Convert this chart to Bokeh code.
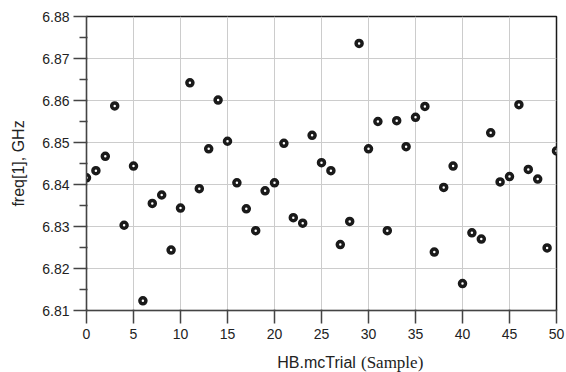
from bokeh.plotting import figure
from bokeh.models import ColumnDataSource, Range1d, FixedTicker
from bokeh.layouts import column
from bokeh.core.properties import value
from bokeh.embed import file_html
from bokeh.resources import INLINE

trial = list(range(51))
freq = [6.8416, 6.8433, 6.8467, 6.8587, 6.8303, 6.8444, 6.8123, 6.8355, 6.8375, 6.8244,
        6.8344, 6.8642, 6.8390, 6.8485, 6.8601, 6.8503, 6.8404, 6.8342, 6.8290, 6.8385,
        6.8404, 6.8498, 6.8321, 6.8308, 6.8517, 6.8452, 6.8433, 6.8257, 6.8312, 6.8736,
        6.8485, 6.8550, 6.8290, 6.8552, 6.8490, 6.8560, 6.8586, 6.8239, 6.8393, 6.8444,
        6.8164, 6.8285, 6.8270, 6.8523, 6.8406, 6.8419, 6.8590, 6.8436, 6.8413, 6.8249,
        6.8480]
x_ticks = [0, 5, 10, 15, 20, 25, 30, 35, 40, 45, 50]
y_ticks = [6.81, 6.82, 6.83, 6.84, 6.85, 6.86, 6.87, 6.88]
y_minor = [6.815, 6.825, 6.835, 6.845, 6.855, 6.865, 6.875]
y_label = "freq[1], GHz"
x_label_main = "HB.mcTrial"
x_label_unit = "(Sample)"

src = ColumnDataSource(dict(x=trial, y=freq))

p = figure(width=566, height=344, output_backend="svg", toolbar_location=None,
           x_range=Range1d(0, 50), y_range=Range1d(6.81, 6.88),
           min_border_left=86, min_border_right=10, min_border_top=16, min_border_bottom=34)
p.background_fill_color = "white"
p.border_fill_color = "white"
p.outline_line_color = "#1a1a1a"
p.outline_line_width = 1.5

p.scatter("x", "y", source=src, marker="circle", size=6, line_width=3.5,
          line_color="#1a1a1a", fill_color="white")

p.xaxis.ticker = FixedTicker(ticks=x_ticks)
p.yaxis.ticker = FixedTicker(ticks=y_ticks, minor_ticks=y_minor)
p.yaxis.formatter.precision = 2

p.axis.major_tick_out = 13
p.axis.major_tick_in = 1
p.axis.minor_tick_out = 7
p.axis.minor_tick_in = 1
p.axis.major_tick_line_color = "#444444"
p.axis.minor_tick_line_color = "#444444"
p.axis.axis_line_color = "#444444"
p.axis.major_tick_line_width = 1.5
p.axis.minor_tick_line_width = 1.5
p.axis.major_label_text_font = "Liberation Sans"
p.axis.major_label_text_font_size = "14px"
p.axis.major_label_text_color = "#222222"
p.axis.major_label_standoff = 4

p.xaxis.minor_tick_out = 0
p.xaxis.minor_tick_in = 0
p.xaxis.major_label_standoff = 5

p.yaxis.axis_label = y_label
p.yaxis.axis_label_text_font = "Liberation Sans"
p.yaxis.axis_label_text_font_size = "16px"
p.yaxis.axis_label_text_font_style = "normal"
p.yaxis.axis_label_text_color = "#222222"
p.yaxis.axis_label_standoff = 12

p.xgrid.ticker = FixedTicker(ticks=x_ticks)
p.ygrid.ticker = FixedTicker(ticks=y_ticks)
p.grid.grid_line_color = "#cccccc"
p.grid.grid_line_width = 1

# strip below the chart carrying the x-axis title (mixed fonts); same frame as the chart
lab = figure(width=566, height=28, output_backend="svg", toolbar_location=None,
             x_range=Range1d(0, 50), y_range=Range1d(0, 28),
             x_axis_type=None, y_axis_type=None,
             min_border_left=86, min_border_right=10, min_border_top=0, min_border_bottom=0)
lab.grid.visible = False
lab.outline_line_color = None
lab.background_fill_color = "white"
lab.border_fill_color = "white"
lab.text(x=[20.3], y=[10], text=[x_label_main], text_font=value("Liberation Sans"),
         text_font_size="16px", text_color="#222222", text_align="left",
         text_baseline="alphabetic")
lab.text(x=[29.2], y=[10], text=[x_label_unit], text_font=value("Liberation Serif"),
         text_font_size="17px", text_color="#222222", text_align="left",
         text_baseline="alphabetic")

layout = column(p, lab, spacing=0)
open("out.html", "w").write(file_html(layout, INLINE))
